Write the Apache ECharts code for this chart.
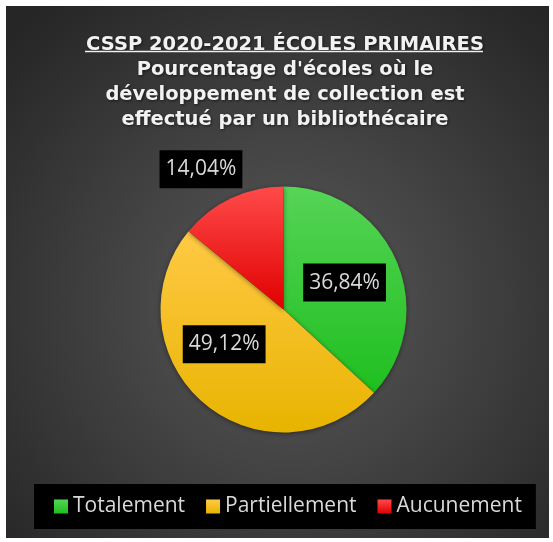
<!DOCTYPE html>
<html>
<head>
<meta charset="utf-8">
<script src="https://cdn.jsdelivr.net/npm/echarts@6/dist/echarts.min.js"></script>
<style>
html,body{margin:0;padding:0;background:#fff;}
#chart{width:553px;height:542px;}
</style>
</head>
<body>
<div id="chart"></div>
<script>
const titleLines = ["CSSP 2020-2021 ÉCOLES PRIMAIRES", "Pourcentage d'écoles où le", "développement de collection est", "effectué par un bibliothécaire"];
const categories = ["Totalement", "Partiellement", "Aucunement"];
const values = [36.84, 49.12, 14.04];
const sliceColors = [
  ["#56d456", "#1fbf1f"],
  ["#ffc945", "#e8b400"],
  ["#ff4a4a", "#e00000"]
];
const labelOffsets = [[2, -1], [-17, -14], [-55, -82]];

function grad(c) {
  return {type: 'linear', x: 0, y: 0, x2: 0, y2: 1,
    colorStops: [{offset: 0, color: c[0]}, {offset: 1, color: c[1]}]};
}
function fmt(v) { return v.toFixed(2).replace('.', ',') + '%'; }

const chart = echarts.init(document.getElementById('chart'), null, {renderer: 'canvas'});
const option = {
  animation: false,
  backgroundColor: '#ffffff',
  graphic: [
    {type: 'rect', z: -10, silent: true,
     shape: {x: 6, y: 6, width: 543, height: 532},
     style: {fill: {type: 'radial', x: 0.52, y: 0.56, r: 0.72,
       colorStops: [{offset: 0, color: '#5a5a5a'}, {offset: 1, color: '#262626'}]}}},
    {type: 'line', z: 10, silent: true,
     shape: {x1: 85, y1: 51.5, x2: 483, y2: 51.5},
     style: {stroke: '#f0f0f0', lineWidth: 1.5}}
  ],
  title: {
    text: titleLines.join('\n'),
    left: 280,
    top: 27,
    textAlign: 'center',
    textStyle: {
      color: '#f2f2f2', fontFamily: 'DejaVu Sans', fontWeight: 'bold',
      fontSize: 19.5, lineHeight: 25,
      textShadowColor: 'rgba(0,0,0,0.6)', textShadowBlur: 3, textShadowOffsetX: 1, textShadowOffsetY: 1
    }
  },
  legend: {
    data: categories,
    left: 34,
    top: 484,
    backgroundColor: '#000000',
    padding: [11, 14, 11, 20],
    itemGap: 21,
    itemWidth: 14,
    itemHeight: 14,
    icon: 'rect',
    selectedMode: false,
    textStyle: {color: '#d9d9d9', fontFamily: 'Open Sans', fontSize: 21, lineHeight: 23}
  },
  series: [{
    type: 'pie',
    center: [283.5, 309.5],
    radius: [0, 123],
    startAngle: 90,
    clockwise: true,
    silent: true,
    emphasis: {disabled: true},
    labelLine: {show: false},
    itemStyle: {shadowColor: 'rgba(0,0,0,0.45)', shadowBlur: 5, shadowOffsetY: 1},
    label: {
      show: true,
      position: 'inside',
      formatter: p => fmt(p.value),
      color: '#d9d9d9',
      fontFamily: 'Open Sans',
      fontSize: 21,
      lineHeight: 22,
      backgroundColor: '#000000',
      padding: [8, 6, 8, 6]
    },
    data: categories.map((c, i) => ({
      name: c,
      value: values[i],
      itemStyle: {color: grad(sliceColors[i])},
      label: {offset: labelOffsets[i]}
    }))
  }]
};
chart.setOption(option);
</script>
</body>
</html>
